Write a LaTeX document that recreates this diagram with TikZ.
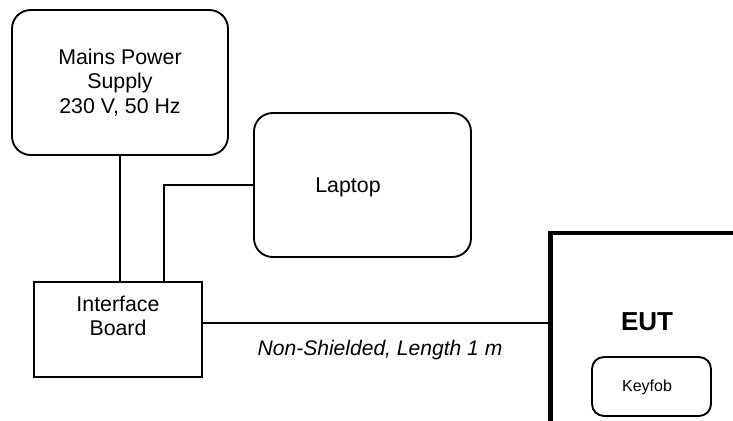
\documentclass[tikz,border=0pt]{standalone}
\usepackage{fontspec}
\setmainfont{Liberation Sans}
\tikzset{
  box/.style={draw, line width=1.4pt, rounded corners=14pt},
  plainbox/.style={draw, line width=1.4pt},
  wire/.style={line width=1.4pt},
  wall/.style={line width=3.3pt},
  big/.style={font=\fontsize{16}{18.5}\selectfont, align=center},
}
\begin{document}
\begin{tikzpicture}[x=0.75pt,y=-0.75pt]
  \useasboundingbox (0,0) rectangle (733,421);
  \node[box, big, minimum width=162pt, minimum height=108.75pt] (mains) at (120,82.5) {Mains Power\\Supply\\230 V, 50 Hz};
  \node[box, minimum width=162.75pt, minimum height=108pt] (laptop) at (362.5,185) {};
  \node[big] (laptoptxt) at (348,187) {Laptop};
  \node[plainbox, minimum width=126pt, minimum height=71.25pt] (board) at (118,329.5) {};
  \node[big] (boardtxt) at (118,316) {Interface\\Board};
  \coordinate (eutbot) at (550.5,421);
  \coordinate (eutcorner) at (550.5,233);
  \coordinate (eutright) at (733,233);
  \draw[wall] (eutbot) -- (eutcorner) -- (eutright);
  \node[font=\fontsize{19.5}{22}\selectfont\bfseries] (eut) at (647,322) {EUT};
  \node[box, rounded corners=9pt, minimum width=89.25pt, minimum height=44.25pt] (keyfob) at (651.5,386.5) {};
  \node[font=\fontsize{12}{14}\selectfont] (keyfobtxt) at (647,387) {Keyfob};
  \draw[wire] (mains.south) -- (mains.south |- board.north);
  \draw[wire] (laptop.west) -| ([xshift=34.5pt]board.north);
  \draw[wire] ([yshift=4.9pt]board.east) -- ([yshift=4.9pt]board.east -| eutcorner);
  \node[font=\fontsize{15.8}{18.5}\selectfont\itshape] (cable) at (380,350) {Non-Shielded, Length 1 m};
\end{tikzpicture}
\end{document}
